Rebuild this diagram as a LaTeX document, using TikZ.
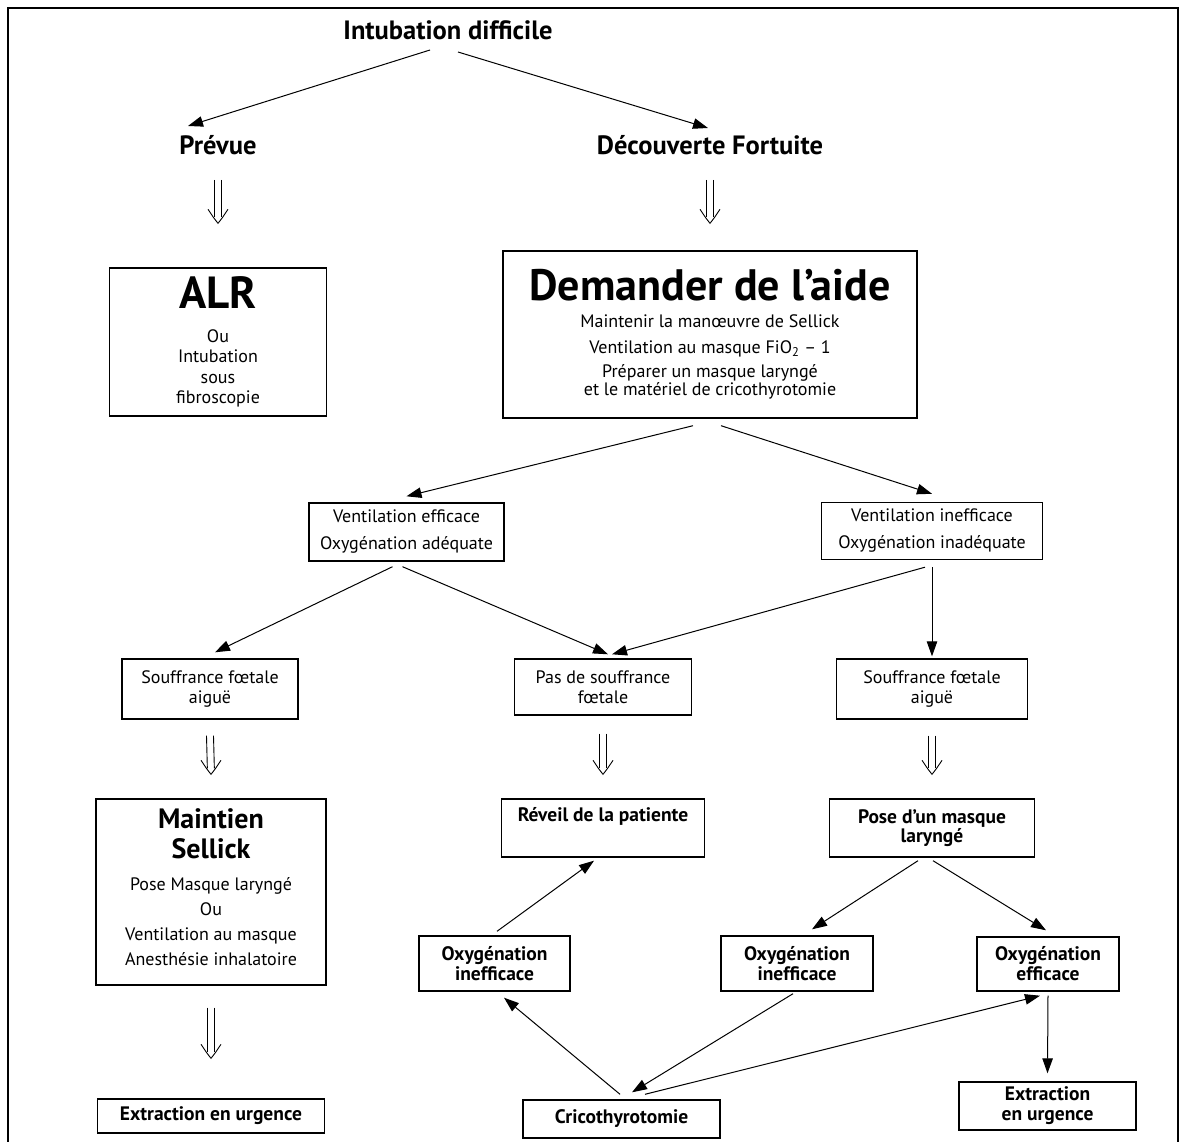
\documentclass[tikz,border=0pt]{standalone}
\usepackage{fontspec}
\setmainfont{PT Sans}
\usetikzlibrary{arrows.meta,calc}

\begin{document}
\begin{tikzpicture}[x=1pt,y=-1pt,>={Triangle[length=15pt,width=10.5pt]},
  box/.style={draw,line width=1.4pt,align=center,inner sep=0pt},
  arr/.style={->,line width=1pt},
  dbl/.style={draw=none,
    postaction={draw,line width=0.9pt,shorten >=6pt,transform canvas={xshift=-3.5pt}},
    postaction={draw,line width=0.9pt,shorten >=6pt,transform canvas={xshift=3.5pt}}},
  dblhead/.style={line width=0.9pt},
  top/.style={font=\bfseries\fontsize{26.5}{30}\selectfont},
  body/.style={font=\fontsize{18}{#1}\selectfont},
  bbody/.style={font=\bfseries\fontsize{19.5}{#1}\selectfont}]
\useasboundingbox (0,0) rectangle (1181,1142);
\draw[line width=1.4pt] (8,1160)--(8,8)--(1178,8)--(1178,1160);
\node[top,anchor=base] (intub) at (448,40) {Intubation difficile};
\node[top,anchor=base] (prev) at (218,155) {Prévue};
\node[top,anchor=base] (decouv) at (710,155) {Découverte Fortuite};
\node[box,body=20.5,minimum width=217,minimum height=148] (alr) at (218,342)
  {{\bfseries\fontsize{45}{45}\selectfont ALR}\\[13.5pt]Ou\\Intubation\\sous\\fibroscopie};
\node[box,body=26,minimum width=414,minimum height=167] (dem) at (710,334.5)
  {{\bfseries\fontsize{44}{44}\selectfont Demander de l’aide}\\[1pt]Maintenir la manœuvre de Sellick\\
   Ventilation au masque FiO\textsubscript{2} – 1\\[-2pt]Préparer un masque laryngé\\[-8pt]et le matériel de cricothyrotomie};
\node[box,body=27,minimum width=195,minimum height=58] (vef) at (406.5,532) {Ventilation efficace\\Oxygénation adéquate};
\node[box,body=27,minimum width=221,minimum height=57] (vin) at (932,531) {Ventilation inefficace\\Oxygénation inadéquate};
\node[box,body=20,minimum width=176,minimum height=60] (sfl) at (210,689) {Souffrance fœtale\\aiguë};
\node[box,body=20,minimum width=177,minimum height=56] (pas) at (603,687) {Pas de souffrance\\fœtale};
\node[box,body=20,minimum width=191,minimum height=60] (sfr) at (932,689) {Souffrance fœtale\\aiguë};
\node[box,body=25,minimum width=230,minimum height=186,text depth=10pt] (maint) at (211,892)
  {{\bfseries\fontsize{28}{28}\selectfont Maintien}\\[5pt]{\bfseries\fontsize{28}{28}\selectfont Sellick}\\[7pt]Pose Masque laryngé\\Ou\\Ventilation au masque\\Anesthésie inhalatoire};
\node[box,bbody=20,minimum width=227,minimum height=34] (exl) at (211,1116) {Extraction en urgence};
\node[box,bbody=20,minimum width=203,minimum height=58,text depth=27pt] (rev) at (603,828) {Réveil de la patiente};
\node[box,bbody=19,minimum width=205,minimum height=58] (pose) at (932,828) {Pose d'un masque\\laryngé};
\node[box,bbody=20,minimum width=151,minimum height=55] (oil) at (494.5,963.5) {Oxygénation\\inefficace};
\node[box,bbody=20,minimum width=152,minimum height=55] (oim) at (797,963.5) {Oxygénation\\inefficace};
\node[box,bbody=20,minimum width=142,minimum height=54] (oef) at (1048,964) {Oxygénation\\efficace};
\node[box,bbody=20,minimum width=177,minimum height=48] (exr) at (1047.5,1106) {Extraction\\en urgence};
\node[box,bbody=20,minimum width=197,minimum height=38] (cri) at (621.5,1119) {Cricothyrotomie};
\coordinate (tipA) at ([shift={(0,-44)}]alr.north);
\coordinate (tipB) at ([shift={(0,-27)}]dem.north);
\coordinate (tipC) at ([shift={(0,-24)}]maint.north);
\coordinate (tipD) at ([shift={(0,-24)}]rev.north);
\coordinate (tipE) at ([shift={(0,-24)}]pose.north);
\coordinate (tipF) at ([shift={(0,-40)}]exl.north);
\draw[dbl] ([shift={(0,25)}]prev.base)--(tipA);
\draw[dbl] ([shift={(0,25)}]decouv.base)--(tipB);
\draw[dbl] ([shift={(0,16)}]sfl.south)--(tipC);
\draw[dbl] ([shift={(0,18)}]pas.south)--(tipD);
\draw[dbl] ([shift={(0,16)}]sfr.south)--(tipE);
\draw[dbl] ([shift={(0,22)}]maint.south)--(tipF);
\foreach \t in {tipA,tipB,tipC,tipD,tipE,tipF}
  \draw[dblhead] ($(\t)+(-10,-14)$) .. controls ($(\t)+(-4,-5)$) .. (\t) .. controls ($(\t)+(4,-5)$) .. ($(\t)+(10,-14)$);
\draw[arr] ([shift={(-18,10)}]intub.base)--([shift={(-30,-29)}]prev.base);
\draw[arr] ([shift={(10,12)}]intub.base)--([shift={(-2,-27)}]decouv.base);
\draw[arr] ([shift={(-17,7)}]dem.south)--([shift={(0,-6)}]vef.north);
\draw[arr] ([shift={(11,7)}]dem.south)--([shift={(0,-8)}]vin.north);
\draw[arr] ([shift={(-14,5)}]vef.south)--([shift={(5,-6)}]sfl.north);
\draw[arr] ([shift={(-4,5)}]vef.south)--([shift={(5,-4)}]pas.north);
\draw[arr] ([shift={(-7,7)}]vin.south)--([shift={(9,-4)}]pas.north);
\draw[arr] ([shift={(0,7)}]vin.south)--([shift={(0,-2)}]sfr.north);
\draw[arr] ([shift={(-14,3)}]pose.south)--([shift={(15,-6)}]oim.north);
\draw[arr] ([shift={(1,3)}]pose.south)--([shift={(-2,-6)}]oef.north);
\draw[arr] ([shift={(2.5,-4)}]oil.north)--([shift={(-9,3)}]rev.south);
\draw[arr] ([shift={(-1.5,-5)}]cri.north)--([shift={(9.5,6)}]oil.south);
\draw[arr] ([shift={(-4,2)}]oim.south)--([shift={(10.5,-7)}]cri.north);
\draw[arr] ([shift={(23.5,-5)}]cri.north)--([shift={(-8,4)}]oef.south);
\draw[arr] ([shift={(0,4)}]oef.south)--([shift={(0,-8)}]exr.north);
\end{tikzpicture}
\end{document}
